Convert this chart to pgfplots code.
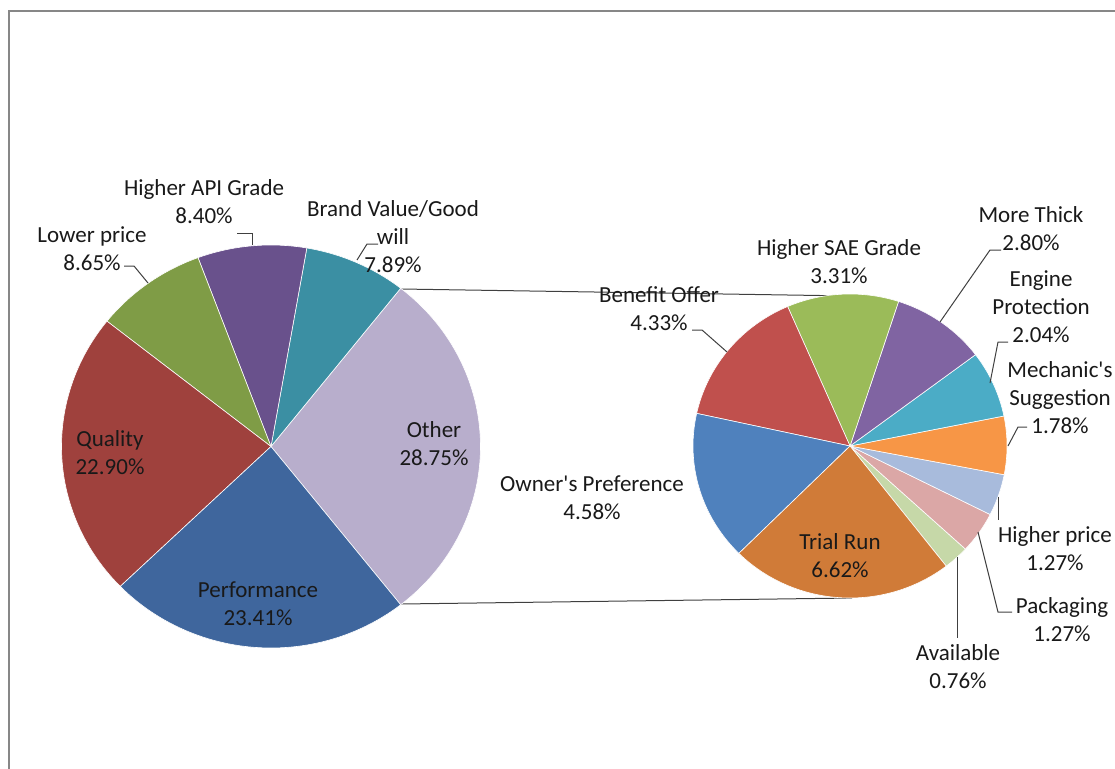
\documentclass[border=0pt]{standalone}
\usepackage{pgfplots}
\pgfplotsset{compat=1.18}
\usepackage{pgfplotstable}
\usepackage{fontspec}
\setmainfont{Carlito}

% left (main) pie colours
\definecolor{cOther}{HTML}{B8AECC}
\definecolor{cBrand}{HTML}{3B8FA3}
\definecolor{cAPI}{HTML}{69518C}
\definecolor{cLower}{HTML}{7F9C46}
\definecolor{cQuality}{HTML}{9F413D}
\definecolor{cPerf}{HTML}{3F669D}
% right (secondary) pie colours
\definecolor{cAvail}{HTML}{C6D8A8}
\definecolor{cPack}{HTML}{DBA7A6}
\definecolor{cHprice}{HTML}{A8BBDC}
\definecolor{cMech}{HTML}{F79646}
\definecolor{cEngine}{HTML}{4BACC6}
\definecolor{cThick}{HTML}{8064A2}
\definecolor{cSAE}{HTML}{9BBB59}
\definecolor{cBenefit}{HTML}{C0504D}
\definecolor{cOwner}{HTML}{4F81BD}
\definecolor{cTrial}{HTML}{D07B38}
\definecolor{leader}{HTML}{404040}

% main pie, counter-clockwise from the lower edge of "Other"
\pgfplotstableread{
value color
28.75 cOther
7.89  cBrand
8.40  cAPI
8.65  cLower
22.90 cQuality
23.41 cPerf
}\lefttab

% secondary pie (breakdown of Other), counter-clockwise
\pgfplotstableread{
value color
0.76 cAvail
1.27 cPack
1.27 cHprice
1.78 cMech
2.04 cEngine
2.80 cThick
3.31 cSAE
4.33 cBenefit
4.58 cOwner
6.62 cTrial
}\righttab

% #1 table, #2 cx, #3 cy, #4 rx, #5 ry, #6 start angle
\newcommand{\piechart}[6]{%
  \pgfplotstablegetrowsof{#1}%
  \pgfmathtruncatemacro{\lastrow}{\pgfplotsretval-1}%
  \def\pietotal{0}%
  \pgfplotsforeachungrouped \i in {0,...,\lastrow}{%
    \pgfplotstablegetelem{\i}{value}\of{#1}%
    \pgfmathsetmacro{\pietotal}{\pietotal+\pgfplotsretval}}%
  \def\angA{#6}%
  \pgfplotsforeachungrouped \i in {0,...,\lastrow}{%
    \pgfplotstablegetelem{\i}{value}\of{#1}\let\sliceval\pgfplotsretval
    \pgfplotstablegetelem{\i}{color}\of{#1}\let\slicecol\pgfplotsretval
    \pgfmathsetmacro{\angB}{\angA+360*\sliceval/\pietotal}%
    \edef\doslice{\noexpand\addplot[fill=\slicecol, draw=white, line width=0.6bp,
      domain=\angA:\angB, samples=60]
      ({#2+#4*cos(x)},{#3-#5*sin(x)}) -- (#2,#3) -- cycle;}%
    \doslice
    \let\angA\angB}%
}

\tikzset{lbl/.style={font=\fontsize{23bp}{28bp}\selectfont, align=center, inner sep=0pt, text=black!90}}

\begin{document}
\begin{tikzpicture}
\useasboundingbox (0,0) rectangle (1115bp,769bp);
\begin{axis}[
  at={(0,0)}, anchor=south west,
  width=1115bp, height=769bp, scale only axis,
  xmin=0, xmax=1115, ymin=0, ymax=769, y dir=reverse,
  hide axis, clip=false,
]
% frame
\draw[line width=2bp, color=black!47] (axis cs:9,800) -- (axis cs:9,11) -- (axis cs:1140,11);

% connector lines
\draw[leader, line width=1bp] (axis cs:401,289) -- (axis cs:852,296);
\draw[leader, line width=1bp] (axis cs:401,604) -- (axis cs:852,598);

\piechart{\lefttab}{271}{446.5}{209.5}{201.5}{-51.75}
\piechart{\righttab}{850}{446}{157}{152}{-52.2}

% leader lines
\draw[leader, line width=1bp] (axis cs:124,266) -- (axis cs:134,266) -- (axis cs:148,283);
\draw[leader, line width=1bp] (axis cs:237,233) -- (axis cs:252,233) -- (axis cs:252,245);
\draw[leader, line width=1bp] (axis cs:378,244) -- (axis cs:367,244) -- (axis cs:357,260);
\draw[leader, line width=1bp] (axis cs:692,330) -- (axis cs:702,330) -- (axis cs:727,352);
\draw[leader, line width=1bp] (axis cs:1001,250) -- (axis cs:990,250) -- (axis cs:940,322);
\draw[leader, line width=1bp] (axis cs:1008,342) -- (axis cs:998,342) -- (axis cs:990,383);
\draw[leader, line width=1bp] (axis cs:1027,427) -- (axis cs:1018,427) -- (axis cs:1008,446);
\draw[leader, line width=1bp] (axis cs:998,497) -- (axis cs:998,520);
\draw[leader, line width=1bp] (axis cs:978,532) -- (axis cs:998,612) -- (axis cs:1012,612);
\draw[leader, line width=1bp] (axis cs:957,557) -- (axis cs:957,638);

% labels, main pie
\node[lbl] at (axis cs:92,249) {Lower price\\8.65\%};
\node[lbl] at (axis cs:204,202) {Higher API Grade\\8.40\%};
\node[lbl] at (axis cs:393,237) {Brand Value/Good\\will\\7.89\%};
\node[lbl] at (axis cs:434,444) {Other\\28.75\%};
\node[lbl] at (axis cs:110,453) {Quality\\22.90\%};
\node[lbl] at (axis cs:258,604) {Performance\\23.41\%};

% labels, secondary pie
\node[lbl] at (axis cs:839,262) {Higher SAE Grade\\3.31\%};
\node[lbl] at (axis cs:659,309) {Benefit Offer\\4.33\%};
\node[lbl] at (axis cs:592,498) {Owner\textquotesingle s Preference\\4.58\%};
\node[lbl] at (axis cs:840,556) {Trial Run\\6.62\%};
\node[lbl] at (axis cs:1031,229) {More Thick\\2.80\%};
\node[lbl] at (axis cs:1041,307) {Engine\\Protection\\2.04\%};
\node[lbl] at (axis cs:1060,398) {Mechanic\textquotesingle s\\Suggestion\\1.78\%};
\node[lbl] at (axis cs:1055,549) {Higher price\\1.27\%};
\node[lbl] at (axis cs:1062,620) {Packaging\\1.27\%};
\node[lbl] at (axis cs:958,667) {Available\\0.76\%};
\end{axis}
\end{tikzpicture}
\end{document}
